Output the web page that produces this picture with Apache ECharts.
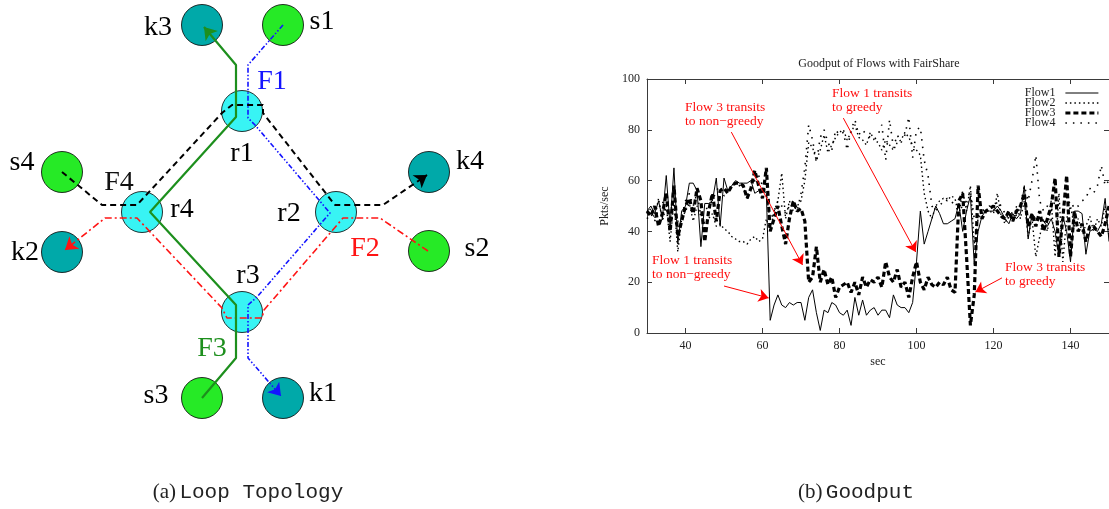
<!DOCTYPE html>
<html><head><meta charset="utf-8">
<script src="https://cdn.jsdelivr.net/npm/echarts@6/dist/echarts.min.js"></script>
<style>html,body{margin:0;padding:0;background:#fff}#c{width:1109px;height:509px}</style>
</head><body><div id="c"></div>
<script>
// ---------- Chart (b) data ----------
const secs = [
  30,31,32,33,34,35,36,37,38,39,
  40,41,42,43,44,45,46,47,48,49,
  50,51,52,53,54,55,56,57,58,59,
  60,61,62,63,64,65,66,67,68,69,
  70,71,72,73,74,75,76,77,78,79,
  80,81,82,83,84,85,86,87,88,89,
  90,91,92,93,94,95,96,97,98,99,
  100,101,102,103,104,105,106,107,108,109,
  110,111,112,113,114,115,116,117,118,119,
  120,121,122,123,124,125,126,127,128,129,
  130,131,132,133,134,135,136,137,138,139,
  140,141,142,143,144,145,146,147,148,149,
  150];
const flow1 = [
  48,50,47,52,45,62,42,65,35,48,
  50,59,59,56,34,51,51,52,61,42,
  61,56,58,60,59,59,59,60,55,56,
  57,55,5,11,15,11,10,12,11,12,
  12,5,14,17,8,1,9,8,12,11,
  8,7,9,3,14,7,13,7,9,10,
  7,9,9,6,15,11,10,10,8,12,
  28,48,35,40,45,50,47,43,43,44,
  45,51,40,48,54,27,40,46,48,48,
  48,50,48,45,43,47,45,47,58,37,
  47,45,45,44,42,45,40,30,46,40,
  28,48,48,47,31,40,41,40,43,53,
  36];
const flow2 = [
  47,49,45,53,44,50,36,52,32,45,
  48,51,44,50,46,43,45,47,42,43,
  41,40,38,37,36,36,35,37,38,36,
  37,45,40,48,52,63,45,52,48,50,
  52,60,75,73,68,72,78,71,74,77,
  79,80,76,79,82,77,76,74,79,76,
  75,72,76,74,72,75,76,79,77,74,
  72,70,55,48,45,50,52,53,52,54,
  53,46,56,48,58,35,45,47,48,48,
  47,55,46,43,48,44,50,45,52,38,
  45,30,38,45,40,52,30,55,28,45,
  50,42,45,40,42,46,40,45,42,50,
  38];
const flow3 = [
  48,46,50,42,47,55,40,58,38,44,
  50,53,47,57,52,36,48,55,44,56,
  57,55,58,59,59,58,53,57,64,58,
  53,65,40,45,50,42,35,45,52,48,
  49,44,20,22,34,20,25,19,22,14,
  18,19,20,16,20,15,22,18,21,20,
  22,18,28,22,20,25,18,20,14,22,
  28,20,17,22,19,18,20,19,22,17,
  16,52,55,30,3,15,58,45,48,49,
  50,48,46,45,48,44,48,50,55,42,
  47,42,48,40,45,50,61,30,45,62,
  30,48,40,43,36,42,42,40,38,43,
  50];
const flow4 = [
  45,47,44,49,52,47,50,48,44,46,
  52,55,50,55,46,48,50,52,56,58,
  54,55,58,59,58,57,54,56,60,62,
  58,55,44,48,52,50,47,50,52,48,
  55,65,82,76,67,77,80,75,72,80,
  78,79,72,80,84,78,80,78,77,76,
  78,82,68,84,73,78,75,78,85,69,
  80,81,68,62,50,48,50,52,53,52,
  50,48,50,52,56,45,46,48,49,50,
  48,52,50,47,45,48,46,50,58,52,
  60,70,52,48,50,48,52,50,51,50,
  52,49,50,52,53,57,55,58,66,58,
  60];
const flowNames = ['Flow1','Flow2','Flow3','Flow4'];
const xTicks = [40,60,80,100,120,140];
// annotation arrows: [fromSec, fromVal, toSec, toVal]
const arrows = [
  [51.9,79.1,70.4,26.8],
  [81.0,84.6,99.8,31.9],
  [50.0,18.5,61.6,13.8],
  [122.2,21.7,115.3,16.1]
];
const notes = ['Flow 3 transits\nto non\u2212greedy','Flow 1 transits\nto greedy','Flow 1 transits\nto non\u2212greedy','Flow 3 transits\nto greedy'];

// ---------- Diagram (a) data ----------
const nodes = [
  ['k3',202,25,'sink'],['s1',283,25,'source'],['r1',242,111,'router'],
  ['r4',142,212,'router'],['r2',336,212,'router'],['r3',242,312,'router'],
  ['s4',62,172,'source'],['k2',62,252,'sink'],['k4',429,172,'sink'],
  ['s2',429,251,'source'],['s3',202,398,'source'],['k1',283,398,'sink']
];
const pathF1 = [[283,25],[248,65],[248,118],[255,125],[330,213],[257,297],[248,305],[248,358],[281,396]];
const pathF2 = [[428,251],[380,218],[343,218],[264,310],[262,318],[227,318],[222,308],[137,218],[105,218],[65,250]];
const pathF3 = [[202,398],[236,358],[236,305],[150,212],[236,117],[236,65],[204,27]];
const pathF4 = [[62,172],[102,205],[137,205],[222,113],[232,105],[263,105],[263,113],[335,205],[383,205],[427,175]];
const flowLabels = [['F1',272,82],['F2',365,249],['F3',212,349],['F4',119,183]];

// ---------- styles ----------
const SERIF = '"Liberation Serif","Times New Roman",serif';
const MONO = '"Liberation Mono","DejaVu Sans Mono",monospace';
const nodeColor = {router:'#38f4f4', source:'#26ea26', sink:'#00a9a9'};
const labelOffset = {k3:[-44,3],s1:[39,-3],r1:[0,43],r4:[40,-2],r2:[-47,2],r3:[6,-36],
  s4:[-40,-9],k4:[41,-10],k2:[-37,1],s2:[48,-2],s3:[-46,-2],k1:[40,-4]};
const flowLabelColor = {F1:'#1414ff',F2:'#ff1414',F3:'#1d8f1d',F4:'#111111'};
const pathStyle = [
  {p:pathF1, color:'#1414ff', width:1.6, type:[5,2,1.5,2,1.5,2]},
  {p:pathF2, color:'#ff1414', width:1.6, type:[7,3,2,3]},
  {p:pathF3, color:'#1d8f1d', width:2.2, type:'solid'},
  {p:pathF4, color:'#000000', width:2, type:[6,4]}
];
const flowStyle = {
  Flow1:{width:1, type:'solid'},
  Flow2:{width:1.4, type:[1.5,3]},
  Flow3:{width:3.2, type:[5,3]},
  Flow4:{width:1.6, type:[1.5,6]}
};
const flowData = {Flow1:flow1, Flow2:flow2, Flow3:flow3, Flow4:flow4};
const AX = '#3a3a3a';

const series = [];
// nodes
series.push({
  type:'scatter', xAxisIndex:0, yAxisIndex:0, z:2, silent:true,
  symbolSize:41,
  data: nodes.map(n => ({
    value:[n[1],n[2]], name:n[0],
    itemStyle:{color:nodeColor[n[3]], borderColor:'#000', borderWidth:0.8, opacity:1},
    label:{show:true, position:'inside', offset:labelOffset[n[0]], formatter:n[0],
      fontFamily:SERIF, fontSize:28, color:'#000', opacity:1, textBorderWidth:0}
  }))
});
// flow label texts
series.push({
  type:'scatter', xAxisIndex:0, yAxisIndex:0, z:5, silent:true, symbolSize:1,
  itemStyle:{color:'rgba(255,255,255,0)', opacity:1},
  data: flowLabels.map(f => ({
    value:[f[1],f[2]], name:f[0],
    label:{show:true, position:'inside', formatter:f[0], fontFamily:SERIF, fontSize:28,
      color:flowLabelColor[f[0]], opacity:1, textBorderWidth:0}
  }))
});
// paths and arrowheads
pathStyle.forEach(ps => {
  series.push({
    type:'line', xAxisIndex:0, yAxisIndex:0, z:4, silent:true, symbol:'none',
    data: ps.p, lineStyle:{color:ps.color, width:ps.width, type:ps.type}
  });
  const a = ps.p[ps.p.length-2], b = ps.p[ps.p.length-1];
  const dx = b[0]-a[0], dy = b[1]-a[1], L = Math.hypot(dx,dy);
  series.push({
    type:'lines', coordinateSystem:'cartesian2d', xAxisIndex:0, yAxisIndex:0, z:4, silent:true,
    symbol:['none','arrow'], symbolSize:12,
    lineStyle:{color:ps.color, width:1, opacity:1},
    data:[{coords:[[b[0]-dx/L*2, b[1]-dy/L*2], b]}]
  });
});
// goodput lines
flowNames.forEach((nm, k) => {
  const s = {
    name:nm, type:'line', xAxisIndex:1, yAxisIndex:1, symbol:'none', z:3, silent:true,
    data: secs.map((t,i) => [t, flowData[nm][i]]),
    lineStyle:{color:'#000', width:flowStyle[nm].width, type:flowStyle[nm].type},
    itemStyle:{color:'#000'}
  };
  if (k === 0) {
    s.markLine = {
      silent:true, symbol:['none','arrow'], symbolSize:10, animation:false,
      label:{show:false}, lineStyle:{color:'#ff0000', width:1, type:'solid'},
      emphasis:{disabled:true},
      data: arrows.map(a => [{coord:[a[0],a[1]]},{coord:[a[2],a[3]]}])
    };
  }
  series.push(s);
});

const noteStyle = [
  {x:685, y:101}, {x:832, y:87}, {x:652, y:254}, {x:1005, y:261}
];
const graphic = [
  {type:'text', x:879, y:64, silent:true, style:{text:'Goodput of Flows with FairShare', font:'12px '+SERIF, fill:'#222', align:'center', verticalAlign:'middle', textAlign:'center', textVerticalAlign:'middle'}},
  {type:'text', x:248, y:492, silent:true, style:{text:'{a|(a)} {b|Loop Topology}', align:'center', verticalAlign:'middle', textAlign:'center', textVerticalAlign:'middle',
     rich:{a:{fontFamily:SERIF, fontSize:21, fill:'#222'}, b:{fontFamily:MONO, fontSize:21, fill:'#222'}}}},
  {type:'text', x:856, y:492, silent:true, style:{text:'{a|(b)} {b|Goodput}', align:'center', verticalAlign:'middle', textAlign:'center', textVerticalAlign:'middle',
     rich:{a:{fontFamily:SERIF, fontSize:21, fill:'#222'}, b:{fontFamily:MONO, fontSize:21, fill:'#222'}}}}
];
notes.forEach((t,i) => graphic.push({type:'text', x:noteStyle[i].x, y:noteStyle[i].y, silent:true, z:10,
  style:{text:t, font:'13.5px '+SERIF, fill:'#ff1010', lineHeight:13.5, align:'left', verticalAlign:'top', textAlign:'left', textVerticalAlign:'top'}}));

const axisCommon = {
  axisLine:{show:true, onZero:false, lineStyle:{color:AX, width:1}},
  splitLine:{show:false}
};
const option = {
  animation:false,
  backgroundColor:'#ffffff',
  grid:[
    {left:0, top:0, width:500, height:420},
    {left:647, top:79, width:464, height:254}
  ],
  xAxis:[
    {gridIndex:0, type:'value', min:0, max:500, show:false},
    Object.assign({gridIndex:1, type:'value', min:30, max:150, position:'bottom',
      axisTick:{show:true, inside:true, length:5, customValues:xTicks, lineStyle:{color:AX}},
      axisLabel:{show:true, customValues:xTicks, margin:7, fontFamily:SERIF, fontSize:12, color:'#222'},
      name:'sec', nameLocation:'middle', nameGap:23, nameTextStyle:{fontFamily:SERIF, fontSize:12, color:'#222'}}, axisCommon),
    Object.assign({gridIndex:1, type:'value', min:30, max:150, position:'top',
      axisTick:{show:true, inside:true, length:5, customValues:xTicks, lineStyle:{color:AX}},
      axisLabel:{show:false}}, axisCommon)
  ],
  yAxis:[
    {gridIndex:0, type:'value', min:0, max:420, inverse:true, show:false},
    Object.assign({gridIndex:1, type:'value', min:0, max:100, interval:20, position:'left',
      axisTick:{show:true, inside:true, length:5, lineStyle:{color:AX}},
      axisLabel:{show:true, margin:7, fontFamily:SERIF, fontSize:12, color:'#222'},
      name:'Pkts/sec', nameLocation:'middle', nameGap:36, nameTextStyle:{fontFamily:SERIF, fontSize:12, color:'#222'}}, axisCommon),
    Object.assign({gridIndex:1, type:'value', min:0, max:100, interval:20, position:'right',
      axisTick:{show:true, inside:true, length:5, lineStyle:{color:AX}},
      axisLabel:{show:false}}, axisCommon)
  ],
  legend:{
    data:flowNames, orient:'vertical', right:9, top:87, align:'right',
    itemWidth:33, itemHeight:8, itemGap:-2, padding:0, selectedMode:false,
    itemStyle:{color:'rgba(0,0,0,0)', borderWidth:0, opacity:0},
    lineStyle:{opacity:1, width:'inherit'},
    textStyle:{fontFamily:SERIF, fontSize:12, color:'#222', lineHeight:10, padding:[0,5,0,0]}
  },
  graphic: graphic,
  series: series
};
const chart = echarts.init(document.getElementById('c'), null, {renderer:'canvas'});
chart.setOption(option);
</script></body></html>
